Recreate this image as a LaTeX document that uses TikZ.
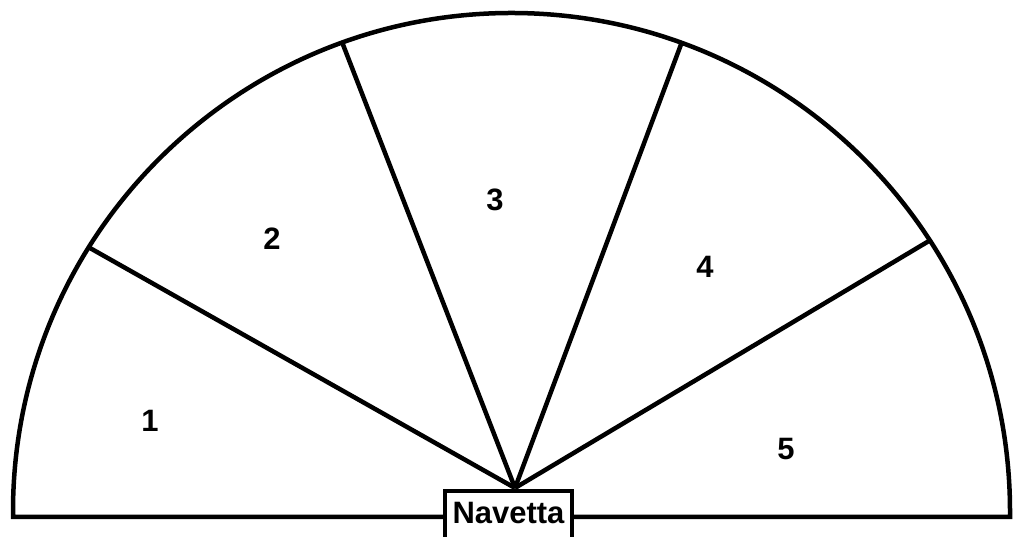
\documentclass[tikz,border=0pt]{standalone}
\usepackage{fontspec}
\setmainfont{Liberation Sans}
\usetikzlibrary{calc}

\begin{document}
\begin{tikzpicture}[
    x=0.025cm, y=0.025cm,
    outline/.style={line width=3.2pt, line join=miter},
    spoke/.style={line width=3.2pt},
    zone/.style={font=\fontsize{22}{26}\selectfont\bfseries},
    shuttle/.style={rectangle, draw, line width=2.9pt, fill=white, minimum width=3.18cm, minimum height=1.3cm, inner sep=0pt, text depth=6pt, font=\fontsize{22}{26}\selectfont\bfseries}
]
\useasboundingbox (0,0) rectangle (1014,537);
\clip (0,0) rectangle (1014,537);

% Shuttle box on the base line
\node[shuttle] (navetta) at (508.5,20) {Navetta};

% Centre of the arc and meeting point of the spokes
\coordinate (centre) at (511.5,25.5);
\coordinate (apex) at (515,49);

% Border points on the arc
\coordinate (b1) at ($(centre)+(148.0:498.5)$);
\coordinate (b2) at ($(centre)+(109.85:498.5)$);
\coordinate (b3) at ($(centre)+(70.05:498.5)$);
\coordinate (b4) at ($(centre)+(32.94:498.5)$);

% Half circle and base line
\draw[outline] (navetta.west) -- (13,20) -- (13,25.5) arc[start angle=180, end angle=0, radius=498.5] -- (1010,20) -- (navetta.east);

% Spokes between the zones
\draw[spoke] (apex) -- (b1);
\draw[spoke] (apex) -- (b2);
\draw[spoke] (apex) -- (b3);
\draw[spoke] (apex) -- (b4);

% Zone numbers
\node[zone] (z1) at (150,116) {1};
\node[zone] (z2) at (272,298) {2};
\node[zone] (z3) at (495,337) {3};
\node[zone] (z4) at (705,270) {4};
\node[zone] (z5) at (786,88) {5};
\end{tikzpicture}
\end{document}
